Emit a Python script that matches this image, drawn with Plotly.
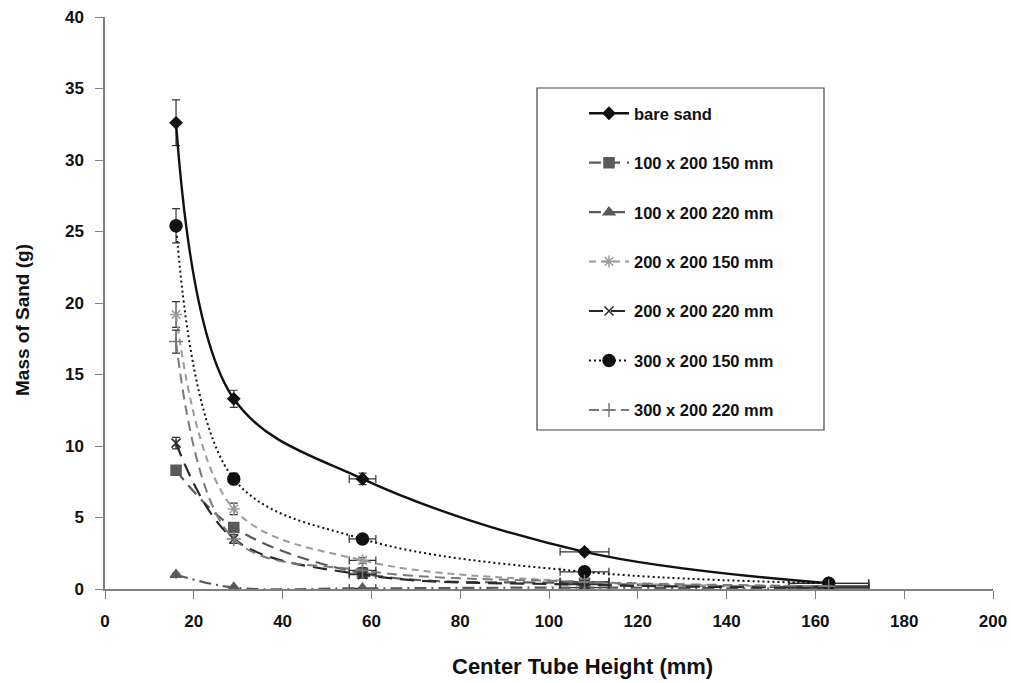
import plotly.graph_objects as go

# Center tube heights (mm) and horizontal spread
heights = [16, 29, 58, 108, 163]
height_err = [0, 0, 3, 5.5, 9]

# Mass of sand collected (g) for each configuration
bare_sand = [32.6, 13.3, 7.7, 2.6, 0.4]
bare_sand_err = [1.6, 0.6, 0.4, 0.2, 0.1]

m100_150 = [8.3, 4.3, 1.1, 0.4, 0.1]
m100_150_err = [0.3, 0.3, 0.2, 0.1, 0.05]

m100_220 = [1.0, 0.1, 0.05, 0.1, 0.0]
m100_220_err = [0.1, 0.05, 0.05, 0.05, 0.0]

m200_150 = [19.2, 5.6, 2.0, 0.5, 0.2]
m200_150_err = [0.9, 0.4, 0.2, 0.1, 0.05]

m200_220 = [10.2, 3.5, 1.0, 0.3, 0.1]
m200_220_err = [0.4, 0.3, 0.1, 0.05, 0.05]

m300_150 = [25.4, 7.7, 3.5, 1.2, 0.4]
m300_150_err = [1.2, 0.4, 0.2, 0.1, 0.05]

m300_220 = [17.3, 3.5, 1.3, 0.5, 0.2]
m300_220_err = [0.8, 0.3, 0.2, 0.1, 0.05]

series = [
    ("bare sand", bare_sand, bare_sand_err, "#111111", "solid", 2.4, "diamond", 9),
    ("100 x 200 150 mm", m100_150, m100_150_err, "#5a5a5a", "12px,7px", 2.2, "square", 10),
    ("100 x 200 220 mm", m100_220, m100_220_err, "#5a5a5a", "12px,5px,2px,5px", 2.2, "triangle-up", 10),
    ("200 x 200 150 mm", m200_150, m200_150_err, "#9a9a9a", "7px,5px", 2.0, "asterisk-open", 10),
    ("200 x 200 220 mm", m200_220, m200_220_err, "#2a2a2a", "14px,8px", 2.2, "x-thin-open", 9),
    ("300 x 200 150 mm", m300_150, m300_150_err, "#111111", "2px,3px", 2.0, "circle", 12),
    ("300 x 200 220 mm", m300_220, m300_220_err, "#7a7a7a", "10px,6px", 2.0, "cross-thin-open", 10),
]

FONT = "Liberation Sans, Arial, sans-serif"

fig = go.Figure()
for i, (name, vals, errs, color, dash, width, symbol, size) in enumerate(series):
    fig.add_trace(go.Scatter(
        x=heights, y=vals, name=name, mode="lines+markers",
        line=dict(color=color, dash=dash, width=width, shape="spline", smoothing=1.0),
        marker=dict(symbol=symbol, size=size, color=color,
                    line=dict(color=color, width=1.5)),
        error_y=dict(type="data", array=errs, color="#333333", thickness=1.2, width=4),
        error_x=dict(type="data", array=height_err, color="#333333", thickness=1.2, width=4),
        legendgroup=f"g{i}",
    ))

axis_font = dict(family=FONT, size=17, color="#111111", weight="bold")

# plot area in pixels: x 105..993, y 17..589
PL, PR, PT, PB = 105, 993, 17, 589
pw, ph = PR - PL, PB - PT

fig.update_layout(
    width=1011, height=683,
    margin=dict(l=PL, r=1011 - PR, t=PT, b=683 - PB),
    paper_bgcolor="white", plot_bgcolor="white",
    font=dict(family=FONT, color="#111111"),
    xaxis=dict(
        range=[0, 200], tickmode="linear", tick0=0, dtick=20, automargin=False,
        showgrid=False, zeroline=False, showline=True, linecolor="#808080", linewidth=1.5,
        ticks="outside", ticklen=8, tickcolor="#808080", ticklabelstandoff=8,
        tickfont=axis_font,
    ),
    yaxis=dict(
        range=[0, 40], tickmode="linear", tick0=0, dtick=5, automargin=False,
        showgrid=False, zeroline=False, showline=True, linecolor="#808080", linewidth=1.5,
        ticks="outside", ticklen=8, tickcolor="#808080", ticklabelstandoff=8,
        tickfont=axis_font,
    ),
    legend=dict(
        x=(584 - PL) / pw, y=(PB - 96) / ph, xanchor="left", yanchor="top",
        bgcolor="rgba(0,0,0,0)", borderwidth=0,
        font=dict(family=FONT, size=16.5, color="#111111", weight="bold"),
        tracegroupgap=25, traceorder="grouped", itemwidth=40,
    ),
    shapes=[dict(
        type="rect", xref="paper", yref="paper",
        x0=(537 - PL) / pw, x1=(824 - PL) / pw,
        y0=(PB - 430) / ph, y1=(PB - 88) / ph,
        line=dict(color="#444444", width=1.2), fillcolor="rgba(0,0,0,0)", layer="below",
    )],
    annotations=[
        dict(text="Center Tube Height (mm)", xref="paper", yref="paper",
             x=(582 - PL) / pw, y=(PB - 667) / ph, xanchor="center", yanchor="middle",
             showarrow=False, font=dict(family=FONT, size=22, color="#111111", weight="bold")),
        dict(text="Mass of Sand (g)", xref="paper", yref="paper", textangle=-90,
             x=(22 - PL) / pw, y=(PB - 320) / ph, xanchor="center", yanchor="middle",
             showarrow=False, font=dict(family=FONT, size=19, color="#111111", weight="bold")),
    ],
)

fig.write_html("out.html")
